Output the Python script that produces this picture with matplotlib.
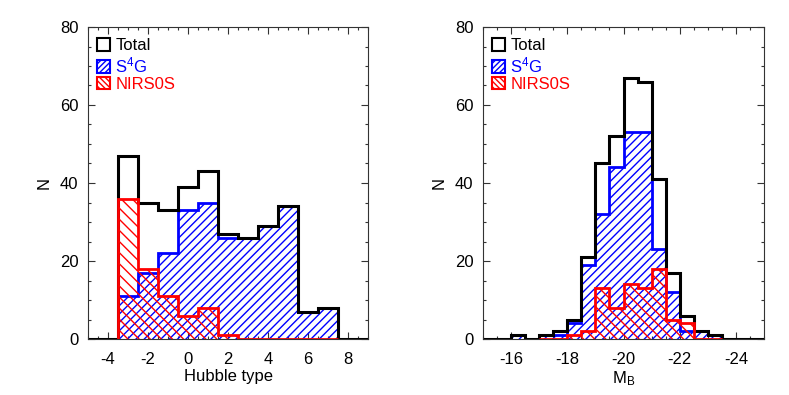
import numpy as np
import matplotlib
matplotlib.use("Agg")
import matplotlib.pyplot as plt
from matplotlib.patches import Patch

plt.rcParams['font.family'] = ['Liberation Sans', 'DejaVu Sans']
plt.rcParams['mathtext.fontset'] = 'custom'
plt.rcParams['mathtext.rm'] = 'Liberation Sans'
plt.rcParams['mathtext.it'] = 'Liberation Sans:italic'
plt.rcParams['hatch.linewidth'] = 1.0
plt.rcParams['axes.unicode_minus'] = False

# ---------------- Left panel data: Hubble type ----------------
total_types = list(range(-5, 10))          # bin centres, width 1
total_hubble = [0, 0, 47, 35, 33, 39, 43, 27, 26, 29, 34, 7, 8, 0, 0]
sub_types = list(range(-3, 8))
s4g_hubble = [11, 17, 22, 33, 35, 26, 26, 29, 34, 7, 8]
nirs_hubble = [36, 18, 11, 6, 8, 1, 0, 0, 0, 0, 0]

# ---------------- Right panel data: M_B ----------------
# bins of 0.5 mag, listed from -15.0 towards -25.0
mb_edges = [-15.0 - 0.5 * i for i in range(21)]
total_mb = [0, 0, 1, 0, 1, 2, 5, 21, 45, 52, 67, 66, 41, 17, 6, 2, 1, 0, 0, 0]
s4g_mb = [0, 0, 1, 0, 1, 1, 4, 19, 32, 44, 53, 53, 23, 12, 2, 2, 1, 0, 0, 0]
nirs_mb_edges = [-17.0 - 0.5 * i for i in range(14)]
nirs_mb = [0, 0, 1, 2, 13, 8, 14, 13, 18, 5, 4, 0, 0]

legend_labels = ['Total', 'S$^4$G', 'NIRS0S']
BLUE = '#0000ff'
RED = '#ff0000'

fig = plt.figure(figsize=(7.89, 3.95), dpi=100)
ax1 = fig.add_axes([88 / 789, 56 / 395, 280 / 789, 312 / 395])
ax2 = fig.add_axes([483 / 789, 56 / 395, 281 / 789, 312 / 395])


def centres_to_edges(c):
    c = np.asarray(c, float)
    return np.concatenate([c - 0.5, [c[-1] + 0.5]])


def draw(ax, tot_e, tot_v, s_e, s_v, n_e, n_v):
    ax.stairs(s_v, s_e, baseline=0, fill=True, facecolor='none',
              edgecolor=BLUE, hatch='////', linewidth=2.0, zorder=2)
    ax.stairs(tot_v, tot_e, baseline=0, color='black', linewidth=2.2, zorder=3)
    ax.stairs(n_v, n_e, baseline=0, fill=True, facecolor='none',
              edgecolor=RED, hatch='\\\\\\', linewidth=0.0, zorder=4)
    ax.stairs(n_v, n_e, baseline=0, color=RED, linewidth=2.0, zorder=5)


draw(ax1, centres_to_edges(total_types), total_hubble,
     centres_to_edges(sub_types), s4g_hubble,
     centres_to_edges(sub_types), nirs_hubble)
e_mb = np.array(mb_edges)
draw(ax2, e_mb, total_mb, e_mb, s4g_mb, np.array(nirs_mb_edges), nirs_mb)

ax1.set_xlim(-5, 9)
ax2.set_xlim(-15, -25)
for ax in (ax1, ax2):
    ax.set_ylim(0, 80)
    ax.set_yticks([0, 20, 40, 60, 80])
    ax.set_yticks(np.arange(0, 81, 5), minor=True)
    ax.tick_params(which='both', direction='in', top=True, right=True,
                   labelsize=12, color='#333333', width=0.8)
    ax.tick_params(which='major', length=5, pad=7)
    ax.tick_params(which='minor', length=2.5)
    for sp in ax.spines.values():
        sp.set_linewidth(0.8)
        sp.set_color('#333333')
        sp.set_zorder(6)
    ax.set_ylabel('N', fontsize=12, labelpad=6)
    handles = [Patch(facecolor='none', edgecolor='black', linewidth=1.5),
               Patch(facecolor='none', edgecolor=BLUE, hatch='//////', linewidth=1.5),
               Patch(facecolor='none', edgecolor=RED, hatch='\\\\\\\\\\\\', linewidth=1.5)]
    leg = ax.legend(handles, legend_labels, loc='upper left', frameon=False,
                    fontsize=12, handlelength=0.8, handleheight=0.8,
                    handletextpad=0.3, labelspacing=0.1, borderaxespad=0.0,
                    borderpad=0.0, bbox_to_anchor=(0.032, 0.964))
    for t, c in zip(leg.get_texts(), ['black', BLUE, RED]):
        t.set_color(c)

ax1.set_xticks([-4, -2, 0, 2, 4, 6, 8])
ax1.set_xticks(np.arange(-5, 9.01, 0.5), minor=True)
ax2.set_xticks([-16, -18, -20, -22, -24])
ax2.set_xticks(np.arange(-25, -14.99, 0.5), minor=True)
ax1.tick_params(axis='x', pad=9)
ax2.tick_params(axis='x', pad=9)
ax1.set_xlabel('Hubble type', fontsize=12, labelpad=2)
ax2.set_xlabel('M$_\\mathrm{B}$', fontsize=12, labelpad=2)

fig.savefig('out.png', dpi=100)
